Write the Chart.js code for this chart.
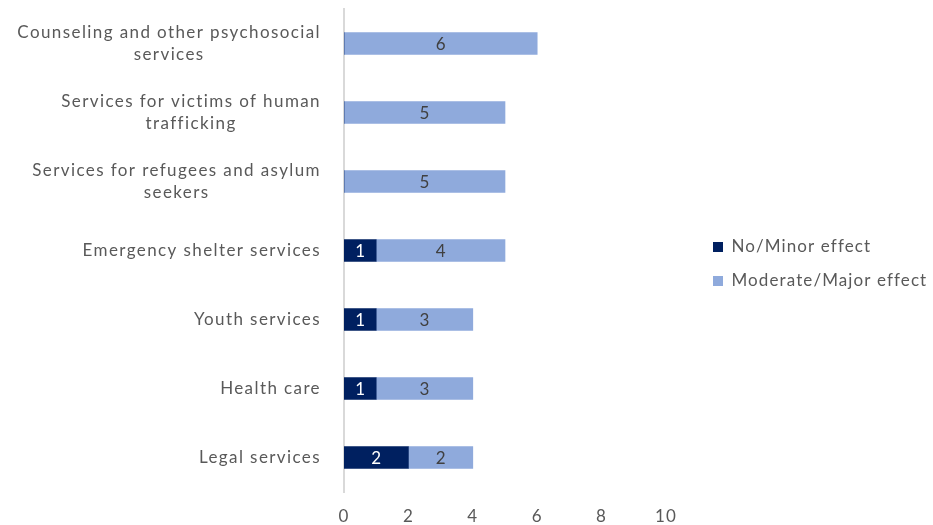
<!DOCTYPE html>
<html>
<head>
<meta charset="utf-8">
<script src="https://cdn.jsdelivr.net/npm/chart.js@4"></script>
<style>
  html, body { margin: 0; padding: 0; background: #fff; }
  #wrap { width: 933px; height: 525px; }
</style>
</head>
<body>
<div id="wrap"><canvas id="barchart"></canvas></div>
<script>
// categories (multi-line labels as arrays)
const categories = [
    ['Counseling and other psychosocial', 'services'],
    ['Services for victims of human', 'trafficking'],
    ['Services for refugees and asylum', 'seekers'],
    ['Emergency shelter services'],
    ['Youth services'],
    ['Health care'],
    ['Legal services']
];
const minorEffect = [0, 0, 0, 1, 1, 1, 2];
const majorEffect = [6, 5, 5, 4, 3, 3, 2];
const xTicks = [0, 2, 4, 6, 8, 10];

const FONT = 'Lato, "DejaVu Sans", sans-serif';
const TEXT = '#595959';

// wider letter spacing for the library's own text (legend, ticks)
const spacing = {
    id: 'spacing',
    beforeDraw(chart) {
        chart.ctx.letterSpacing = '1.1px';
    }
};

// draws the numbers inside each bar segment
const barLabels = {
    id: 'barLabels',
    afterDatasetsDraw(chart) {
        const ctx = chart.ctx;
        ctx.save();
        ctx.font = '17px ' + FONT;
        ctx.letterSpacing = '0px';
        ctx.textAlign = 'center';
        ctx.textBaseline = 'middle';
        chart.data.datasets.forEach(function(ds, i) {
            const meta = chart.getDatasetMeta(i);
            meta.data.forEach(function(bar, j) {
                const v = ds.data[j];
                if (!v) return;
                ctx.fillStyle = i === 0 ? '#ffffff' : '#404040';
                ctx.fillText(String(v), (bar.x + bar.base) / 2, bar.y + 1);
            });
        });
        ctx.restore();
    }
};

// category labels: lines centred on each other, block right-aligned to the axis
const catLabels = {
    id: 'catLabels',
    afterDraw(chart) {
        const ctx = chart.ctx;
        const y = chart.scales.y;
        const right = y.right - 23;
        const lh = 22;
        ctx.save();
        ctx.font = '17px ' + FONT;
        ctx.letterSpacing = '1.4px';
        ctx.fillStyle = TEXT;
        ctx.textAlign = 'center';
        ctx.textBaseline = 'middle';
        categories.forEach(function(lines, i) {
            const widest = Math.max.apply(null, lines.map(function(l) { return ctx.measureText(l).width; }));
            const cx = right - widest / 2;
            const cy = y.getPixelForValue(i);
            const top = cy - (lines.length - 1) * lh / 2;
            lines.forEach(function(l, k) {
                ctx.fillText(l, cx, top + k * lh);
            });
        });
        ctx.restore();
    }
};

// give the legend a fixed column on the right, with a gap before the items
const legendColumn = {
    id: 'legendColumn',
    beforeInit(chart) {
        const fit = chart.legend.fit;
        chart.legend.fit = function() {
            fit.call(this);
            this.width = 267;
        };
    },
    afterLayout(chart) {
        chart.legend.left += 30;
        chart.legend.top -= 3;
        chart.legend.bottom -= 3;
    }
};

document.addEventListener("DOMContentLoaded", function() {
    const ctx = document.getElementById('barchart');

    new Chart(ctx, {
        type: 'bar',
        data: {
            labels: categories,
            datasets: [
                {
                    label: 'No/Minor effect',
                    backgroundColor: '#002060',
                    data: minorEffect
                },
                {
                    label: 'Moderate/Major effect',
                    backgroundColor: '#8faadc',
                    data: majorEffect
                }
            ]
        },
        options: {
            indexAxis: 'y',
            responsive: true,
            maintainAspectRatio: false,
            animation: false,
            layout: { padding: { top: 9, left: 0, right: 0, bottom: 0 } },
            barThickness: 22,
            scales: {
                x: {
                    stacked: true,
                    min: 0,
                    max: 10,
                    grid: { display: false },
                    border: { display: false },
                    ticks: {
                        stepSize: 2,
                        padding: 6,
                        color: TEXT,
                        font: { family: FONT, size: 17 },
                        callback: function(v) { return xTicks.includes(v) ? v : ''; }
                    },
                    afterFit: function(s) { s.height = 33; }
                },
                y: {
                    stacked: true,
                    grid: { display: false },
                    border: { color: '#d9d9d9', width: 2 },
                    ticks: { display: false },
                    afterFit: function(s) { s.width = 344; }
                }
            },
            plugins: {
                legend: {
                    position: 'right',
                    align: 'center',
                    labels: {
                        boxWidth: 10,
                        boxHeight: 10,
                        padding: 17,
                        color: TEXT,
                        font: { family: FONT, size: 17 }
                    }
                },
                tooltip: { enabled: false }
            }
        },
        plugins: [spacing, barLabels, catLabels, legendColumn]
    });
});
</script>
</body>
</html>
